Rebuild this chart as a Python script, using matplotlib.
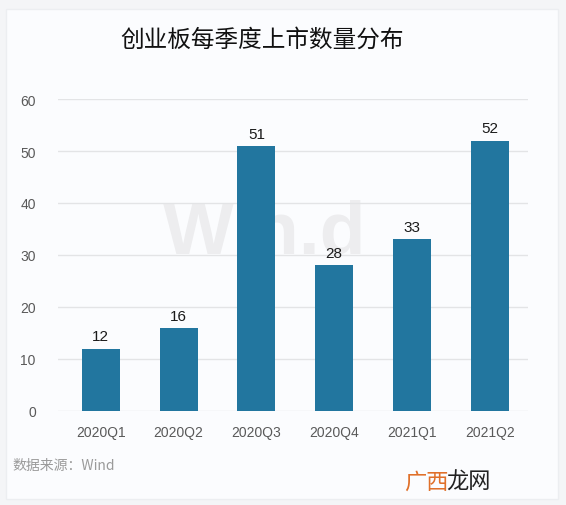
import matplotlib.pyplot as plt
from matplotlib.patches import Rectangle

plt.rcParams['font.family'] = ['Noto Sans CJK SC', 'DejaVu Sans']

quarters = ['2020Q1', '2020Q2', '2020Q3', '2020Q4', '2021Q1', '2021Q2']
counts = [12, 16, 51, 28, 33, 52]
yticks = [0, 10, 20, 30, 40, 50, 60]

fig = plt.figure(figsize=(5.66, 5.06), dpi=100)
fig.patch.set_facecolor('#f4f5f7')

# card background
card = Rectangle((6 / 566, 6 / 506), 552 / 566, 490 / 506, transform=fig.transFigure,
                 facecolor='#fbfcfe', edgecolor='#eceef1', linewidth=1.0, zorder=-10)
fig.patches.append(card)

ax = fig.add_axes([58 / 566, 1 - 412 / 506, 470 / 566, 312 / 506])
ax.set_facecolor('none')

# watermark
ax.text(2.1, 34.3, 'Win.d', fontsize=54, fontweight='bold', color='#ededef',
        ha='center', va='center', family=['Liberation Sans'], zorder=0)

bars = ax.bar(range(len(quarters)), counts, width=0.49, color='#22769f', zorder=2)
for i, v in enumerate(counts):
    ax.text(i, v + 1.0, str(v), ha='center', va='bottom', fontsize=11,
            color='#1a1a1a', family=['Liberation Sans'])

ax.set_xlim(-0.55, 5.49)
ax.set_ylim(0, 60)
ax.set_yticks(yticks)
ax.set_xticks(range(len(quarters)))
ax.set_xticklabels(quarters)
ax.yaxis.grid(True, color='#e3e4e6', linewidth=1.0, zorder=1)
ax.set_axisbelow(True)
for s in ax.spines.values():
    s.set_visible(False)
ax.tick_params(length=0, labelsize=10, labelcolor='#595959', pad=10)
ax.tick_params(axis='y', pad=16)
for lab in ax.get_xticklabels() + ax.get_yticklabels():
    lab.set_family(['Liberation Sans'])

fig.text(262 / 566, 1 - 40 / 506, '创业板每季度上市数量分布', ha='center', va='center',
         fontsize=17, color='#111111')
fig.text(12 / 566, 1 - 466 / 506, '数据来源：Wind', ha='left', va='center',
         fontsize=10, color='#9a9a9a')
fig.text(404 / 566, 1 - 482 / 506, '广西', ha='left', va='center',
         fontsize=16, color='#e0702a')
fig.text(446 / 566, 1 - 482 / 506, '龙网', ha='left', va='center',
         fontsize=16, color='#222222')

fig.savefig('out.png', dpi=100)
